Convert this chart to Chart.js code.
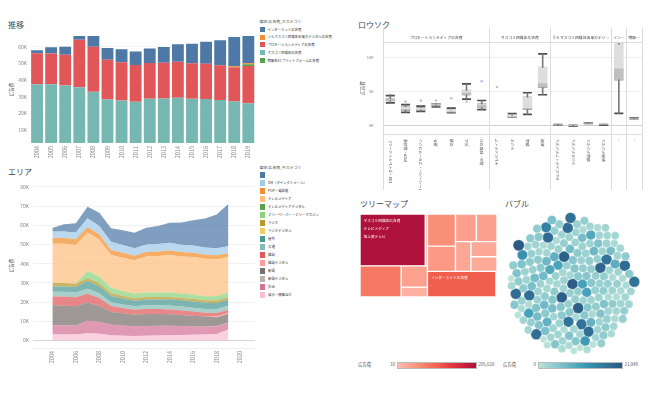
<!DOCTYPE html>
<html lang="ja"><head><meta charset="utf-8">
<script src="https://cdn.jsdelivr.net/npm/chart.js@4.4.1/dist/chart.umd.min.js"></script>
<style>
html,body{margin:0;padding:0;background:#fff;}
body{width:659px;height:394px;position:relative;overflow:hidden;font-family:"Noto Sans CJK JP","Noto Sans",sans-serif;color:#333;}
canvas{position:absolute;}
.ttl{position:absolute;font-size:8px;color:#444;white-space:nowrap;line-height:1;}
.lt{position:absolute;font-size:3.8px;color:#444;white-space:nowrap;line-height:1;}
.li{position:absolute;font-size:3.4px;color:#333;white-space:nowrap;line-height:1;display:flex;align-items:center;}
.li i{display:inline-block;margin-right:3px;flex:none;}
.gl{position:absolute;font-size:4.4px;color:#555;white-space:nowrap;line-height:1;}
.gb{position:absolute;border:0.5px solid #bbb;box-sizing:border-box;}
</style></head><body>
<div class="ttl" style="left:8px;top:21px">推移</div>
<div class="ttl" style="left:8px;top:168px">エリア</div>
<div class="ttl" style="left:358px;top:21px">ロウソク</div>
<div class="ttl" style="left:360px;top:200px">ツリーマップ</div>
<div class="ttl" style="left:505px;top:200px">バブル</div>
<canvas id="c1" width="258" height="135" style="left:0;top:30px"></canvas>
<canvas id="c2" width="258" height="192" style="left:0;top:176px"></canvas>
<canvas id="c3" width="310" height="165" style="left:340px;top:28px"></canvas>
<canvas id="c4" width="137" height="83" style="left:360px;top:214px"></canvas>
<canvas id="c5" width="145" height="152" style="left:500px;top:208px"></canvas>
<script>
// ===== DATA (億円) =====
const years = [2004,2005,2006,2007,2008,2009,2010,2011,2012,2013,2014,2015,2016,2017,2018,2019];
const yearLabels = years.map(String);

// 大カテゴリ
const bigCatNames = ['インターネット広告費','うちマスコミ四媒体由来のデジタル広告費','プロモーションメディア広告費','マスコミ四媒体広告費','物販系ECプラットフォーム広告費'];
const massMedia = [37500,37408,36668,35699,32995,28282,27749,27016,28809,28935,29393,28699,28596,27938,27026,26094];
const promoMedia = [18553,18440,18460,28489,26948,23871,22931,22018,21424,21446,21610,21417,21184,20875,20685,22239];
const massDigitalTotal = [null,null,null,null,null,null,null,null,null,null,null,null,null,null,574,715];
const internetAd = [1814,3777,4826,6003,6983,7069,7747,8062,8680,9381,10519,11594,13100,15094,17589,21048];
const ecPlatform = [null,null,null,null,null,null,null,null,null,null,null,null,null,null,null,1064];

// 中・小カテゴリ
const directMail = [3343,3447,3520,4537,4427,4198,4075,3910,3960,3893,3923,3829,3804,3701,3678,3642];
const popPhonebook = [3100,3050,3000,2900,2744,2601,2502,2415,2356,2406,2382,2304,2219,2165,2100,1970];
const tvTerrestrial = [20436,20411,20161,19981,19092,17139,17321,17237,17757,17913,18347,18088,18374,18178,17848,17337];
const tvSatellite = [null,null,null,null,null,null,null,null,1013,1110,1217,1235,1283,1300,1275,1267];
const tvDigital = [null,null,null,null,null,null,null,null,null,null,null,null,null,null,105,154];
const freePaper = [null,null,null,3684,3545,2881,2640,2550,2367,2289,2316,2303,2267,2136,2287,2110];
const radio = [1795,1778,1744,1671,1549,1370,1299,1247,1246,1243,1272,1254,1285,1290,1278,1260];
const radioDigital = [null,null,null,null,null,null,null,null,null,null,null,null,null,null,null,10];
const outdoor = [2800,2750,2780,4041,3709,3218,3095,2885,2995,3071,3171,3188,3194,3208,3199,3219];
const transit = [2400,2450,2480,2591,2495,2045,1922,1900,1975,2004,2054,2044,2003,2002,2025,2062];
const magazine = [4500,4842,4777,4585,4078,3034,2733,2542,2551,2499,2500,2443,2223,2023,1841,1675];
const magazineDigital = [null,null,null,null,null,null,null,null,null,null,null,null,null,null,337,405];
const newspaper = [10559,10377,9986,9462,8276,6739,6396,5990,6242,6170,6057,5679,5431,5147,4784,4547];
const newspaperDigital = [null,null,null,null,null,null,null,null,null,null,null,null,null,null,132,146];
const inserts = [4765,4576,4684,6549,6156,5444,5279,5061,5165,5103,4920,4687,4450,4170,3911,3559];
const exhibition = [3100,3150,3100,3700,3550,2700,2450,2350,2400,2550,2700,2850,2950,3100,3300,5677];

const midCatNames = ['-','DM（ダイレクトメール）','POP・電話帳','テレビメディア','テレビメディアデジタル','フリーペーパー・フリーマガジン','ラジオ','ラジオデジタル','屋外','交通','雑誌','雑誌デジタル','新聞','新聞デジタル','折込','展示・映像ほか'];

// tick labels
const barTicks = [10000,20000,30000,40000,50000,60000];
const areaYTicks = [0,10000,20000,30000,40000,50000,60000,70000,80000];
const areaXTicks = [2004,2006,2008,2010,2012,2014,2016,2018,2020];
const boxYTicks = [0,5000,10000];
const boxGroups = ['プロモーションメディア広告費','マスコミ四媒体広告費','うちマスコミ四媒体由来のデジタル広告費','インターネット広告費','物販系ECプラットフォーム広告費'];
const boxGroupSizes = [7,4,4,1,1];
const boxLabels = ['DM（ダイレクトメール）','POP・電話帳','フリーペーパー・フリーマガジン','屋外','交通','折込','展示・映像ほか','テレビメディア','ラジオ','雑誌','新聞','テレビメディアデジタル','ラジオデジタル','雑誌デジタル','新聞デジタル','-','-'];
const treemapRange = [10, 295620];
const bubbleRange = [0, 21048];

// ===== STYLES =====
const bigCatColors = ['#4e79a7','#f28e2b','#e15759','#76b7b2','#59a14f'];
const tab20 = ['#4e79a7','#a0cbe8','#f28e2b','#ffbe7d','#59a14f','#8cd17d','#b6992d','#f1ce63','#499894','#86bcb6','#e15759','#ff9d9a','#79706e','#bab0ac','#d37295','#fabfd2'];
const redPal = ["#ffbeb2","#feb4a6","#fdab9b","#fca290","#fb9984","#fa8f79","#f9856e","#f77b66","#f5715d","#f36754","#f05c4d","#ec5049","#e74545","#e13b42","#da323f","#d3293d","#ca223c","#c11a3b","#b8163a","#ae123a"];
const bluePal = ["#bce4d8","#aedcd5","#a1d5d2","#95cecf","#89c8cc","#7ec1ca","#72bac6","#66b2c2","#59acbe","#4ba5ba","#419eb6","#3b96b2","#358ead","#3586a7","#347ea1","#32779b","#316f96","#2f6790","#2d608a","#2c5985"];
const FONT = '"Noto Sans CJK JP","Noto Sans",sans-serif';

Chart.defaults.font.family = FONT;
Chart.defaults.animation = false;
Chart.defaults.responsive = false;
Chart.defaults.plugins.legend.display = false;
Chart.defaults.plugins.tooltip.enabled = false;

// helpers
const z = v => v == null ? 0 : v;
const sumSeries = (...arrs) => arrs[0].map((_, k) => arrs.reduce((t, a) => t + z(a[k]), 0));
const S = a => a.reduce((t, v) => t + z(v), 0);
function hexToRgb(h){return [1,3,5].map(i=>parseInt(h.slice(i,i+2),16));}
function seqColor(pal, t){ t=Math.max(0,Math.min(1,t)); const p=t*(pal.length-1); const i=Math.min(Math.floor(p),pal.length-2); const f=p-i; const a=hexToRgb(pal[i]), b=hexToRgb(pal[i+1]); return 'rgb('+a.map((v,k)=>Math.round(v+(b[k]-v)*f)).join(',')+')'; }
function alpha(h, a){ const c=hexToRgb(h); return `rgba(${c[0]},${c[1]},${c[2]},${a})`; }
const fmt = v => v.toLocaleString('en-US');

const tvMedia = sumSeries(tvTerrestrial, tvSatellite);
const dashSeries = sumSeries(internetAd, ecPlatform);
const midSeries = [dashSeries, directMail, popPhonebook, tvMedia, tvDigital, freePaper, radio, radioDigital, outdoor, transit, magazine, magazineDigital, newspaper, newspaperDigital, inserts, exhibition];

// ===== LEGENDS (HTML text) =====
function addLegend(title, names, colors, x, y0, step, sq){
  const t=document.createElement('div'); t.className='lt'; t.style.left=x+'px'; t.style.top=(y0-9)+'px'; t.textContent=title; document.body.appendChild(t);
  names.forEach((n,i)=>{ const d=document.createElement('div'); d.className='li'; d.style.left=x+'px'; d.style.top=(y0+i*step-sq/2)+'px'; d.style.height=sq+'px';
    const sw=document.createElement('i'); sw.style.background=colors[i]; sw.style.width=sq+'px'; sw.style.height=sq+'px'; d.appendChild(sw); d.appendChild(document.createTextNode(n)); document.body.appendChild(d); });
}
addLegend('媒体\\広告費_大カテゴリ', bigCatNames, bigCatColors, 259.5, 29.3, 7.8, 5);
addLegend('媒体\\広告費_中カテゴリ', midCatNames, tab20, 259.5, 175, 8, 5.5);

function addGradLegend(x, label, range, pal, gx, gw){
  const mk=(cls,css,txt)=>{const d=document.createElement('div'); d.className=cls; d.style.cssText=css; if(txt!=null) d.textContent=txt; document.body.appendChild(d); return d;};
  mk('gl',`left:${x}px;top:362px`,label);
  mk('gl',`left:${gx-16}px;top:362px;width:14px;text-align:right`,fmt(range[0]));
  mk('gb',`left:${gx}px;top:361.5px;width:${gw}px;height:7px;background:linear-gradient(to right,${pal.join(',')})`);
  mk('gl',`left:${gx+gw+1.5}px;top:362px`,fmt(range[1]));
}
addGradLegend(358, '広告費', treemapRange, redPal, 397, 80);
addGradLegend(503, '広告費', bubbleRange, bluePal, 538, 85);

// ===== CHART 1: stacked bars =====
const kfmt = v => (v/1000)+'K';
new Chart(document.getElementById('c1'), {
  type:'bar',
  data:{ labels: yearLabels, datasets: [
    {label: bigCatNames[3], data: massMedia, backgroundColor: bigCatColors[3]},
    {label: bigCatNames[2], data: promoMedia, backgroundColor: bigCatColors[2]},
    {label: bigCatNames[4], data: ecPlatform.map(z), backgroundColor: bigCatColors[4]},
    {label: bigCatNames[1], data: massDigitalTotal.map(z), backgroundColor: bigCatColors[1]},
    {label: bigCatNames[0], data: internetAd, backgroundColor: bigCatColors[0]}
  ].map(d=>Object.assign(d,{barPercentage:0.84, categoryPercentage:1}))},
  options:{
    layout:{padding:{top:3,right:2,left:0,bottom:0}},
    scales:{
      x:{stacked:true, grid:{display:false, drawTicks:false}, border:{display:false},
         ticks:{color:'#888', font:{size:5.5}, minRotation:90, maxRotation:90, padding:3, autoSkip:false},
         afterFit(s){s.height=22;}},
      y:{stacked:true, min:2200, max:66400,
         afterBuildTicks(s){s.ticks=barTicks.map(v=>({value:v}));},
         ticks:{color:'#888', font:{size:5}, padding:3, callback:kfmt},
         grid:{color:'#f4f4f4', drawTicks:false}, border:{display:false},
         title:{display:true, text:'広告費', color:'#666', font:{size:4.5}, padding:{top:9,bottom:0}},
         afterFit(s){s.width=30;}}
    }
  }
});

// ===== CHART 2: stacked areas =====
const areaSets = [];
for (let i = midSeries.length-1; i >= 0; i--) {
  areaSets.push({label: midCatNames[i], data: years.map((y,k)=>({x:y, y:z(midSeries[i][k])})),
    fill: areaSets.length===0 ? 'origin' : '-1', backgroundColor: alpha(tab20[i],0.72), borderWidth:0, pointRadius:0, tension:0});
}
new Chart(document.getElementById('c2'), {
  type:'line',
  data:{datasets: areaSets},
  options:{
    layout:{padding:{top:4,right:3,left:0,bottom:0}},
    scales:{
      x:{type:'linear', min:2002.35, max:2021.27,
         afterBuildTicks(s){s.ticks=areaXTicks.map(v=>({value:v}));},
         ticks:{color:'#888', font:{size:5.5}, minRotation:90, maxRotation:90, padding:3, callback:v=>String(v)},
         grid:{display:false, drawTicks:false}, border:{color:'#eeeeee'},
         afterFit(s){s.height=20;}},
      y:{stacked:true, min:-3940, max:82050,
         afterBuildTicks(s){s.ticks=areaYTicks.map(v=>({value:v}));},
         ticks:{color:'#888', font:{size:5}, padding:4, callback:kfmt},
         grid:{color:c=>c.tick && c.tick.value===0 ? '#d6d6d6' : '#f1f1f1', drawTicks:false}, border:{display:false},
         title:{display:true, text:'広告費', color:'#666', font:{size:4.5}, padding:{top:9,bottom:0}},
         afterFit(s){s.width=33;}}
    }
  }
});

// ===== CHART 3: box plots =====
const boxSeries = [directMail, popPhonebook, freePaper, outdoor, transit, inserts, exhibition, tvMedia, radio, magazine, newspaper, tvDigital, radioDigital, magazineDigital, newspaperDigital, internetAd, ecPlatform];
function quantile(s,p){const idx=(s.length-1)*p; const lo=Math.floor(idx), hi=Math.ceil(idx); return s[lo]+(s[hi]-s[lo])*(idx-lo);}
function boxStats(arr){ const s=arr.filter(v=>v!=null && v>0).sort((a,b)=>a-b); const q1=quantile(s,.25), med=quantile(s,.5), q3=quantile(s,.75), iqr=q3-q1; const lo=q1-1.5*iqr, hi=q3+1.5*iqr; const inl=s.filter(v=>v>=lo&&v<=hi); return {q1,med,q3,min:inl[0],max:inl[inl.length-1],out:s.filter(v=>v<lo||v>hi)}; }
const stats = boxSeries.map(boxStats);
const outPts = []; stats.forEach((s,i)=>s.out.forEach(v=>outPts.push({x:i,y:v})));
const boxHeaderPlugin = {
  id:'boxHeaders',
  afterDraw(chart){
    const {ctx, chartArea:a, scales:{x}} = chart;
    const colW = x.width / boxLabels.length;
    ctx.save();
    ctx.strokeStyle='#dcdcdc'; ctx.lineWidth=1;
    const ln=(x0,y0,x1,y1)=>{ctx.beginPath(); ctx.moveTo(x0,y0); ctx.lineTo(x1,y1); ctx.stroke();};
    ln(a.left,Math.round(a.top)+0.5,a.right,Math.round(a.top)+0.5);
    ln(a.left,Math.round(a.bottom)+0.5,a.right,Math.round(a.bottom)+0.5);
    ctx.font = '3.8px '+FONT; ctx.fillStyle='#444'; ctx.textAlign='center'; ctx.textBaseline='middle';
    let start=0;
    boxGroups.forEach((g,gi)=>{
      const n=boxGroupSizes[gi];
      const x0=x.getPixelForValue(start)-colW/2, x1=x.getPixelForValue(start+n-1)+colW/2;
      ln(Math.round(x0)+0.5, a.top-14, Math.round(x0)+0.5, chart.height-3);
      if (gi===boxGroups.length-1) ln(Math.round(x1)+0.5, a.top-14, Math.round(x1)+0.5, chart.height-3);
      let t=g; const maxW=x1-x0-2;
      if (ctx.measureText(t).width>maxW){ while(t.length>0 && ctx.measureText(t+'…').width>maxW) t=t.slice(0,-1); t+='…'; }
      ctx.fillText(t,(x0+x1)/2,a.top-4);
      start+=n;
    });
    ctx.restore();
  }
};
new Chart(document.getElementById('c3'), {
  type:'bar',
  data:{ labels: boxLabels, datasets:[
    {data: stats.map(s=>[s.min,s.q1]), backgroundColor:'#7a7a7a', barThickness:1, grouped:false},
    {data: stats.map(s=>[s.q3,s.max]), backgroundColor:'#7a7a7a', barThickness:1, grouped:false},
    {data: stats.map(s=>[s.q1,s.med]), backgroundColor:'#bfbfbf', barThickness:9, grouped:false},
    {data: stats.map(s=>[s.med,s.q3]), backgroundColor:'#dedede', barThickness:9, grouped:false},
    {type:'line', data: stats.map(s=>s.min), showLine:false, pointStyle:'line', pointRadius:4.5, pointBorderWidth:1.7, pointBorderColor:'#4a4a4a', pointBackgroundColor:'#4a4a4a'},
    {type:'line', data: stats.map(s=>s.max), showLine:false, pointStyle:'line', pointRadius:4.5, pointBorderWidth:1.7, pointBorderColor:'#4a4a4a', pointBackgroundColor:'#4a4a4a'},
    {type:'line', data: stats.map(s=>s.q1), showLine:false, pointStyle:'line', pointRadius:4.5, pointBorderWidth:0.9, pointBorderColor:'#666', pointBackgroundColor:'#666'},
    {type:'line', data: stats.map(s=>s.q3), showLine:false, pointStyle:'line', pointRadius:4.5, pointBorderWidth:0.9, pointBorderColor:'#666', pointBackgroundColor:'#666'},
    {type:'scatter', data: outPts, pointRadius:1.3, pointBorderWidth:0, pointBackgroundColor:'rgba(90,130,190,0.45)'}
  ]},
  options:{
    layout:{padding:{top:14,right:8.3,left:0,bottom:3}},
    scales:{
      x:{type:'category', offset:true, grid:{display:false, drawTicks:false}, border:{display:false},
         ticks:{autoSkip:false, minRotation:90, maxRotation:90, font:{size:3.8}, color:'#555', padding:5},
         afterFit(s){s.height=56;}},
      y:{min:-1220, max:12300,
         afterBuildTicks(s){s.ticks=boxYTicks.map(v=>({value:v}));},
         ticks:{color:'#888', font:{size:4}, padding:9, callback:kfmt},
         grid:{color:c=>c.tick && c.tick.value===0 ? '#d0d0d0' : '#efefef', drawTicks:false}, border:{display:false},
         title:{display:true, text:'広告費', color:'#666', font:{size:4.5}, padding:{top:20,bottom:0}},
         afterFit(s){s.width=42.7;}}
    }
  },
  plugins:[boxHeaderPlugin]
});

// ===== CHART 4: treemap (floating bars on linear scales) =====
const tmTree = [
  {name:'マスコミ四媒体広告費', children:[
    {name:'テレビメディア', children:[{name:'地上波テレビ', value:S(tvTerrestrial)},{name:'衛星メディア関連', value:S(tvSatellite)}]},
    {name:'新聞', value:S(newspaper)}, {name:'雑誌', value:S(magazine)}, {name:'ラジオ', value:S(radio)} ]},
  {name:'プロモーションメディア広告費', children:[
    {name:'DM（ダイレクトメール）', value:S(directMail)}, {name:'POP・電話帳', value:S(popPhonebook)}, {name:'フリーペーパー・フリーマガジン', value:S(freePaper)},
    {name:'屋外', value:S(outdoor)}, {name:'交通', value:S(transit)}, {name:'折込', value:S(inserts)}, {name:'展示・映像ほか', value:S(exhibition)} ]},
  {name:'インターネット広告費', children:[{name:'-', value:S(internetAd)}]},
  {name:'うちマスコミ四媒体由来のデジタル広告費', children:[
    {name:'テレビメディアデジタル', value:S(tvDigital)}, {name:'ラジオデジタル', value:S(radioDigital)}, {name:'雑誌デジタル', value:S(magazineDigital)}, {name:'新聞デジタル', value:S(newspaperDigital)} ]},
  {name:'物販系ECプラットフォーム広告費', children:[{name:'-', value:S(ecPlatform)}]}
];
function setVal(n){ if(n.children){ n.value=n.children.reduce((t,c)=>t+setVal(c),0);} return n.value; }
tmTree.forEach(setVal);
function worst(row, side){ const s=row.reduce((a,b)=>a+b,0); const mx=Math.max(...row), mn=Math.min(...row); return Math.max(side*side*mx/(s*s),(s*s)/(side*side*mn)); }
function squarify(nodes,x,y,w,h,out){
  nodes=nodes.filter(n=>n.value>0);
  const total=nodes.reduce((a,n)=>a+n.value,0); if(total<=0) return;
  const sc=w*h/total;
  const items=nodes.slice().sort((a,b)=>b.value-a.value).map(n=>({n,a:n.value*sc}));
  let i=0;
  while(i<items.length){
    const side=Math.min(w,h); const row=[items[i]]; let j=i+1;
    while(j<items.length){ const cur=worst(row.map(r=>r.a),side); const nxt=worst(row.concat(items[j]).map(r=>r.a),side); if(nxt<=cur){row.push(items[j]);j++;} else break; }
    const rs=row.reduce((a,r)=>a+r.a,0);
    if(w>=h){ const cw=rs/h; let yy=y; row.forEach(r=>{const rh=r.a/cw; out.push({n:r.n,x,y:yy,w:cw,h:rh}); yy+=rh;}); x+=cw; w-=cw; }
    else { const rh=rs/w; let xx=x; row.forEach(r=>{const cw=r.a/rh; out.push({n:r.n,x:xx,y,w:cw,h:rh}); xx+=cw;}); y+=rh; h-=rh; }
    i=j;
  }
}
function layoutTree(nodes,x,y,w,h,path,leaves){
  const out=[]; squarify(nodes,x,y,w,h,out);
  out.forEach(o=>{ const p=path.concat(o.n.name); if(o.n.children) layoutTree(o.n.children,o.x,o.y,o.w,o.h,p,leaves); else leaves.push({x:o.x,y:o.y,w:o.w,h:o.h,value:o.n.value,path:p}); });
}
const TMW=137, TMH=83;
const leaves=[]; layoutTree(tmTree,0,0,TMW,TMH,[],leaves);
const tmLabelPlugin = {
  id:'tmLabels',
  afterDatasetsDraw(chart){
    const {ctx, scales:{x,y}} = chart;
    ctx.save(); ctx.fillStyle='#fff'; ctx.font='3.7px '+FONT; ctx.textBaseline='top';
    leaves.forEach(l=>{
      let lines=null;
      if (l.path[2]==='地上波テレビ') lines=l.path;
      else if (l.path[0]==='インターネット広告費') lines=l.path;
      if(!lines) return;
      const px=x.getPixelForValue(l.x)+3.5, py=y.getPixelForValue(l.y)+4.5;
      lines.forEach((t,i)=>ctx.fillText(t,px,py+i*8.3));
    });
    ctx.restore();
  }
};
new Chart(document.getElementById('c4'), {
  type:'bar',
  data:{datasets: leaves.map(l=>({
    label:l.path.join(' / '), data:[{x:l.x+l.w/2, y:[l.y,l.y+l.h]}],
    barThickness:l.w, grouped:false, borderSkipped:false, borderWidth:0.7, borderColor:'#ffffff', inflateAmount:0,
    backgroundColor: seqColor(redPal,(l.value-treemapRange[0])/(treemapRange[1]-treemapRange[0]))
  }))},
  options:{
    layout:{padding:0},
    scales:{
      x:{type:'linear', min:0, max:TMW, display:false, offset:false},
      y:{type:'linear', min:0, max:TMH, reverse:true, display:false}
    }
  },
  plugins:[tmLabelPlugin]
});

// ===== CHART 5: packed bubbles =====
const bubbleCats = [tvTerrestrial, tvSatellite, newspaper, magazine, radio, directMail, popPhonebook, freePaper, outdoor, transit, inserts, exhibition, tvDigital, radioDigital, magazineDigital, newspaperDigital, internetAd, ecPlatform];
const bubbleVals = [];
years.forEach((yr,k)=>bubbleCats.forEach(c=>{ if(c[k]!=null) bubbleVals.push(c[k]); }));
function packCircles(rs, gap){
  const placed=[];
  for(let k=0;k<rs.length;k++){
    const r=rs[k];
    if(k===0){placed.push({x:0,y:0,r});continue;}
    if(k===1){placed.push({x:placed[0].r+r+gap,y:0,r});continue;}
    let best=null, bestD=Infinity;
    for(let i=0;i<placed.length;i++){
      const a=placed[i];
      for(let j=i+1;j<placed.length;j++){
        const b=placed[j];
        const dx=b.x-a.x, dy=b.y-a.y, d=Math.hypot(dx,dy);
        const ra=a.r+r+gap, rb=b.r+r+gap;
        if(d>ra+rb || d<Math.abs(ra-rb) || d===0) continue;
        const l=(ra*ra-rb*rb+d*d)/(2*d); const h=Math.sqrt(Math.max(0,ra*ra-l*l));
        const mx=a.x+dx*l/d, my=a.y+dy*l/d;
        for(const s of [1,-1]){
          const cx=mx-s*dy*h/d, cy=my+s*dx*h/d;
          const dist=cx*cx*1.15+cy*cy;
          if(dist>=bestD) continue;
          let ok=true;
          for(const c of placed){ const ex=c.x-cx, ey=c.y-cy, rr=c.r+r+gap-0.01; if(ex*ex+ey*ey<rr*rr){ok=false;break;} }
          if(ok){best={x:cx,y:cy};bestD=dist;}
        }
      }
    }
    placed.push({x:best.x,y:best.y,r});
  }
  return placed;
}
const bubbleR = bubbleVals.map(v=>3.45+2.2*Math.sqrt(v/bubbleRange[1]));
const packed = packCircles(bubbleR, 0.3);
const BW=145, BH=152;
new Chart(document.getElementById('c5'), {
  type:'bubble',
  data:{datasets:[{
    data: packed.map(p=>({x:p.x, y:p.y, r:p.r})),
    backgroundColor: bubbleVals.map(v=>seqColor(bluePal,(v-bubbleRange[0])/(bubbleRange[1]-bubbleRange[0]))),
    borderColor:'#ffffff', borderWidth:0.4, clip:false
  }]},
  options:{
    layout:{padding:0},
    scales:{
      x:{type:'linear', min:-BW/2, max:BW/2, display:false},
      y:{type:'linear', min:-BH/2, max:BH/2, display:false}
    }
  }
});
</script>
</body></html>
